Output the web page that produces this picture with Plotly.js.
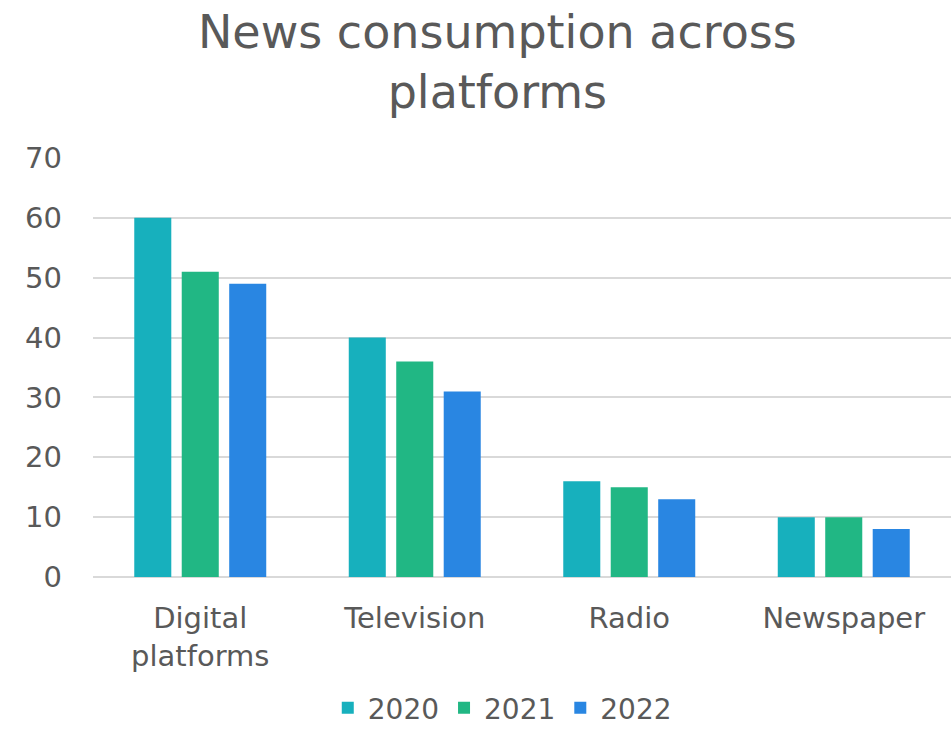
<!DOCTYPE html>
<html><head><meta charset="utf-8">
<script src="https://cdn.plot.ly/plotly-3.0.1.min.js"></script>
<style>html,body{margin:0;padding:0;background:#fff}#chart{width:951px;height:733px}</style>
</head><body><div id="chart"></div>
<script>
var categories = ["Digital<br>platforms", "Television", "Radio", "Newspaper"];
var years = ["2020", "2021", "2022"];
var values2020 = [60, 40, 16, 10];
var values2021 = [51, 36, 15, 10];
var values2022 = [49, 31, 13, 8];
var colors = ["#17B0BD", "#21B784", "#2986E2"];
var series = [values2020, values2021, values2022];

var traces = series.map(function(v, i){
  return {type:'bar', x:categories, y:v, name:years[i], marker:{color:colors[i]}, hoverinfo:'y'};
});
var fam = '"DejaVu Sans", Verdana, sans-serif';
var layout = {
  width:951, height:733,
  margin:{l:93, r:0, t:158, b:156, autoexpand:false},
  paper_bgcolor:'#fff', plot_bgcolor:'#fff',
  font:{family:fam, color:'#595959'},
  title:{text:'News consumption across<br>platforms', font:{family:fam, size:46, color:'#595959'}, x:0.523, xanchor:'center', yref:'container', y:0.934, yanchor:'top'},
  barmode:'group', bargap:0.336, bargroupgap:0.22,
  xaxis:{tickfont:{size:29, color:'#595959'}, showline:false, ticks:'', ticklabelstandoff:21, automargin:false},
  yaxis:{range:[0,70], dtick:10, tickfont:{size:29, color:'#595959'}, gridcolor:'#d9d9d9', gridwidth:1.5, zerolinecolor:'#d9d9d9', zerolinewidth:1.5, ticks:'', ticklabelstandoff:30, automargin:false},
  legend:{orientation:'h', x:0.477, xanchor:'center', yref:'container', y:-0.006, yanchor:'bottom', font:{size:28, color:'#595959'}, tracegroupgap:0},
  showlegend:true
};
Plotly.newPlot('chart', traces, layout, {displayModeBar:false});
</script></body></html>
